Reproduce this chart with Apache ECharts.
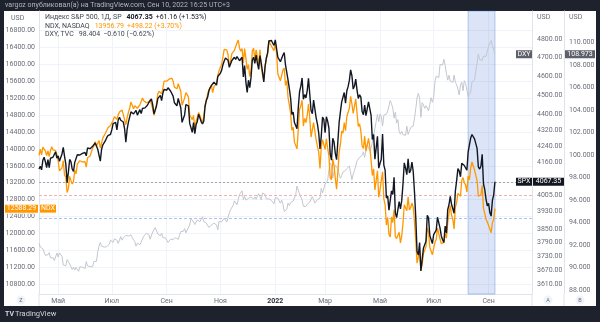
<!DOCTYPE html>
<html>
<head>
<meta charset="utf-8">
<script src="https://cdn.jsdelivr.net/npm/echarts/dist/echarts.min.js"></script>
<style>
  html, body { margin: 0; padding: 0; background: #1e222d; }
  #wrap { position: relative; width: 600px; height: 322px; overflow: hidden; }
  #panel { position: absolute; left: 4px; top: 11px; width: 592px; height: 295px; background: #ffffff; }
  #chart { position: absolute; left: 0; top: 0; width: 600px; height: 322px; }
</style>
</head>
<body>
<div id="wrap"><div id="panel"></div><div id="chart"></div></div>
<script>
// ---- Daily closes, one value per trading day from 2021-04-12 to 2022-09-09 ----
const spxClose = [
  4128, 4141, 4124, 4170, 4185, 4163, 4135, 4173, 4135, 4180, 4188, 4186, 4183, 4211, 4181,
  4192, 4165, 4168, 4201, 4233, 4189, 4152, 4063, 4113, 4174, 4164, 4128, 4116, 4160, 4156, 4197, 4189, 4196, 4201, 4204,
  4202, 4208, 4192, 4230, 4226, 4227, 4220, 4239, 4247, 4255, 4246, 4224, 4222, 4166, 4224, 4246, 4242, 4266, 4281, 4291, 4291, 4298,
  4320, 4352, 4344, 4358, 4320, 4370, 4384, 4369, 4374, 4360, 4327, 4259, 4323, 4359, 4368, 4412, 4422, 4401, 4400, 4419, 4395,
  4387, 4423, 4403, 4429, 4437, 4432, 4436, 4447, 4460, 4468, 4479, 4449, 4401, 4406, 4442, 4480, 4486, 4497, 4470, 4509, 4529, 4523,
  4524, 4537, 4535, 4520, 4514, 4493, 4459, 4469, 4443, 4481, 4474, 4433, 4358, 4355, 4396, 4449, 4455, 4443, 4353, 4360, 4308,
  4357, 4301, 4346, 4364, 4400, 4391, 4361, 4350, 4364, 4438, 4471, 4487, 4520, 4537, 4549, 4545, 4567, 4575, 4551, 4597, 4605,
  4614, 4631, 4660, 4680, 4697, 4702, 4685, 4646, 4649, 4683, 4682, 4701, 4689, 4705, 4698, 4682, 4691, 4701, 4595, 4656, 4567,
  4513, 4577, 4538, 4592, 4686, 4701, 4668, 4712, 4669, 4635, 4710, 4669, 4621, 4568, 4650, 4697, 4726, 4791, 4786, 4793, 4778, 4766,
  4797, 4794, 4701, 4696, 4677, 4670, 4713, 4726, 4659, 4663, 4577, 4533, 4483, 4398, 4410, 4357, 4350, 4326, 4432, 4516,
  4546, 4589, 4477, 4501, 4484, 4522, 4587, 4504, 4419, 4402, 4472, 4475, 4381, 4349, 4305, 4226, 4288, 4385, 4374,
  4306, 4387, 4364, 4329, 4201, 4171, 4278, 4260, 4204, 4173, 4262, 4358, 4412, 4463, 4461, 4512, 4456, 4520, 4543, 4576, 4632, 4602, 4530,
  4546, 4583, 4525, 4481, 4500, 4488, 4413, 4397, 4447, 4392, 4391, 4463, 4460, 4394, 4272, 4297, 4175, 4184, 4288, 4132,
  4155, 4175, 4300, 4147, 4123, 3991, 4001, 3935, 3930, 4024, 4008, 4089, 3923, 3901, 3901, 3974, 3941, 3979, 4058, 4158, 4132,
  4101, 4177, 4109, 4121, 4161, 4116, 4018, 3901, 3750, 3735, 3790, 3667, 3675, 3765, 3760, 3796, 3912, 3900, 3821, 3819, 3785,
  3825, 3831, 3845, 3903, 3899, 3854, 3819, 3802, 3790, 3863, 3831, 3937, 3960, 3999, 3962, 3967, 3921, 4024, 4073, 4130,
  4119, 4091, 4155, 4152, 4145, 4140, 4122, 4210, 4208, 4280, 4297, 4305, 4275, 4284, 4228, 4138, 4128, 4141, 4199, 4058, 4031, 3986, 3955,
  3967, 3924, 3908, 3980, 4006, 4067.35
];

const ndxClose = [
  13845, 13996, 13857, 14041, 14041, 13946, 13844, 13950, 13818, 13960, 14052, 13975, 13930, 13960, 13860,
  13720, 13480, 13440, 13550, 13720, 13380, 13330, 12970, 13060, 13350, 13250, 13170, 13230, 13490, 13410, 13640, 13660, 13720, 13690, 13690,
  13660, 13700, 13570, 13790, 13830, 13830, 13840, 14020, 14070, 14170, 14070, 14040, 14200, 14020, 14140, 14260, 14270, 14370, 14360, 14500, 14530, 14550,
  14520, 14670, 14760, 14790, 14700, 14800, 14870, 14860, 14920, 14810, 14690, 14570, 14740, 14860, 14960, 15110, 15130, 14950, 15020, 15040, 14960,
  14970, 15040, 15080, 15200, 15140, 15170, 15090, 15060, 15110, 15160, 15130, 14950, 14790, 14910, 15070, 15300, 15360, 15390, 15300, 15440, 15600, 15580,
  15600, 15610, 15650, 15690, 15670, 15600, 15460, 15440, 15420, 15540, 15550, 15360, 15030, 15060, 15200, 15330, 15370, 15230, 14800, 14760, 14690,
  14790, 14470, 14660, 14750, 14860, 14790, 14690, 14630, 14760, 15040, 15150, 15290, 15400, 15390, 15500, 15330, 15470, 15510, 15550, 15740, 15850,
  15930, 16000, 16170, 16350, 16370, 16340, 16230, 15980, 16080, 16250, 16240, 16330, 16330, 16500, 16573, 16380, 16310, 16370, 16030, 16370, 16140,
  15880, 15990, 15710, 15850, 16310, 16380, 16100, 16340, 16180, 15990, 16340, 15940, 15750, 15620, 15960, 16120, 16240, 16567, 16480, 16430, 16370, 16320,
  16500, 16280, 15770, 15770, 15610, 15630, 15860, 15910, 15500, 15610, 15210, 15040, 14840, 14440, 14510, 14160, 14160, 14000, 14440, 14930,
  15020, 15150, 14540, 14720, 14620, 14790, 15060, 14730, 14280, 14290, 14620, 14620, 14210, 14060, 13930, 13540, 14030, 14220, 14240,
  13990, 14240, 14020, 13840, 13320, 13270, 13760, 13610, 13300, 13050, 13450, 13930, 14110, 14420, 14370, 14620, 14430, 14760, 14760, 14960, 15240, 15060, 14840,
  14860, 15180, 14850, 14530, 14590, 14420, 14070, 14010, 14300, 13950, 13970, 14250, 14040, 13740, 13370, 13530, 13030, 13020, 13480, 12855,
  13030, 13070, 13460, 12820, 12680, 12200, 12380, 11980, 11920, 12390, 12260, 12560, 11930, 11880, 11840, 12030, 11780, 11940, 12250, 12680, 12640,
  12540, 12870, 12560, 12610, 12720, 12630, 12270, 11830, 11300, 11320, 11590, 11130, 11270, 11530, 11510, 11690, 12130, 12040, 11670, 11680, 11500,
  11530, 11790, 11860, 12130, 12130, 11870, 11760, 11750, 11790, 11990, 11890, 12250, 12470, 12660, 12430, 12340, 12110, 12620, 12730, 12950,
  12920, 12880, 13260, 13320, 13200, 13150, 12980, 13360, 13270, 13550, 13690, 13660, 13500, 13530, 13250, 12880, 12870, 12910, 13140, 12600, 12470, 12340, 12270,
  12270, 12110, 12020, 12260, 12330, 12588.29
];

const dxyClose = [
  92.16, 91.83, 91.69, 91.67, 91.56, 91.08, 91.22, 91.14, 91.32, 90.85, 90.84, 90.88, 90.62, 90.58, 91.28,
  90.94, 91.30, 91.28, 90.99, 90.22, 90.13, 90.15, 90.71, 90.73, 90.31, 90.20, 89.83, 90.03, 89.77, 90.01, 89.97, 89.66, 90.06, 89.97, 90.03,
  89.91, 89.91, 90.53, 90.14, 90.00, 90.09, 90.09, 90.07, 90.55, 90.51, 90.55, 91.40, 91.90, 92.23, 91.90, 91.76, 91.82, 91.82, 91.85, 91.90, 92.09, 92.44,
  92.56, 92.23, 92.55, 92.66, 92.43, 92.14, 92.22, 92.75, 92.43, 92.63, 92.70, 92.86, 92.93, 92.80, 92.77, 92.90, 92.65, 92.49, 92.30, 91.90, 92.17,
  92.05, 92.03, 92.27, 92.25, 92.78, 92.95, 93.05, 92.92, 92.93, 92.52, 92.62, 93.14, 93.18, 93.56, 93.50, 92.98, 92.88, 92.82, 93.06, 92.66, 92.69, 92.63,
  92.53, 92.23, 92.13, 92.52, 92.68, 92.50, 92.58, 92.66, 92.63, 92.50, 92.86, 93.20, 93.27, 93.22, 93.46, 93.08, 93.33, 93.36, 93.78, 94.36, 94.23,
  94.04, 93.82, 93.99, 94.24, 94.23, 94.08, 94.30, 94.51, 94.09, 93.96, 93.96, 93.94, 93.57, 93.59, 93.77, 93.64, 93.94, 93.87, 93.79, 93.35, 94.12,
  94.09, 94.06, 94.18, 94.39, 94.32, 94.04, 93.92, 94.86, 95.15, 95.12, 95.53, 95.93, 95.83, 95.57, 96.03, 96.50, 96.51, 96.82, 96.04, 96.32, 95.99,
  95.97, 96.15, 96.16, 96.28, 96.34, 96.09, 96.28, 96.07, 96.35, 96.56, 96.55, 96.02, 96.62, 96.53, 96.51, 96.10, 96.05, 96.11, 96.20, 95.97, 95.92, 95.67,
  96.21, 96.27, 96.17, 96.32, 95.73, 95.99, 95.62, 94.98, 94.83, 95.17, 95.73, 95.52, 95.77, 95.64, 95.92, 95.93, 96.46, 97.25, 97.26, 96.54,
  96.38, 96.00, 95.44, 95.47, 95.44, 95.63, 95.49, 95.82, 96.08, 96.31, 96.03, 95.73, 95.84, 96.04, 96.03, 96.18, 97.05, 96.62, 96.71,
  97.41, 97.40, 97.76, 98.69, 99.29, 99.07, 97.96, 98.50, 99.13, 98.98, 98.78, 98.32, 97.93, 98.19, 98.49, 98.49, 98.63, 98.81, 98.79, 99.03, 98.41, 97.81, 98.31,
  98.62, 99.03, 99.49, 99.62, 99.80, 99.83, 99.99, 100.29, 99.80, 100.49, 100.94, 100.96, 100.37, 100.65, 101.13, 101.76, 102.34, 103.00, 103.63, 102.96,
  103.66, 103.46, 102.58, 103.55, 103.66, 103.65, 103.92, 103.86, 104.85, 104.57, 104.17, 103.29, 103.81, 102.85, 103.15, 102.08, 101.86, 102.11, 101.83, 101.67, 101.76,
  102.57, 101.84, 102.17, 102.45, 102.35, 102.58, 103.28, 104.15, 105.08, 105.50, 105.06, 103.36, 104.67, 104.47, 104.16, 104.39, 104.20, 103.93, 104.50, 105.11, 104.70,
  105.14, 106.51, 107.04, 107.03, 106.88, 108.06, 108.06, 108.01, 108.53, 107.99, 107.27, 106.67, 107.10, 106.59, 106.74, 106.47, 107.12, 106.46, 106.26, 105.87,
  105.36, 106.24, 106.50, 105.73, 106.62, 106.38, 106.36, 105.20, 105.05, 105.62, 106.50, 106.48, 106.68, 107.52, 108.17, 108.99, 108.50, 108.56, 108.43, 108.81, 108.80, 108.78, 108.70,
  109.67, 109.54, 110.20, 109.71, 109.57, 108.973
];

// Price-scale labels
const ndxTicks = [10800, 11200, 11600, 12000, 12400, 12800, 13200, 13600, 14000, 14400, 14800, 15200, 15600, 16000, 16400, 16800];
const spxTicks = [3610, 3670, 3730, 3790, 3850, 3930, 4005, 4080, 4160, 4240, 4320, 4400, 4500, 4600, 4700, 4800, 4900];
const dxyTicks = [88, 90, 92, 94, 96, 98, 100, 102, 104, 106, 108, 110];
const monthNames = ['Янв', 'Фев', 'Мар', 'Апр', 'Май', 'Июн', 'Июл', 'Авг', 'Сен', 'Окт', 'Ноя', 'Дек'];

// Reference levels and highlighted date range
const spxPrevClose = 4006.19;
const ndxLevel = 12376;
const rangeStart = '2022-08-10';
const rangeEnd = '2022-09-09';

// Legend lines
const legendRows = [
  { name: 'Индекс S&P 500, 1Д, SP', value: '4067.35', change: '+61.16 (+1.53%)', color: '#131722' },
  { name: 'NDX, NASDAQ', value: '13956.79', change: '+498.22 (+3.70%)', color: '#ff9800' },
  { name: 'DXY, TVC', value: '98.404', change: '−0.610 (−0.62%)', color: '#434651' }
];

// ---- NYSE trading calendar ----
const holidays = new Set(['2021-05-31', '2021-07-05', '2021-09-06', '2021-11-25', '2021-12-24',
  '2022-01-17', '2022-02-21', '2022-04-15', '2022-05-30', '2022-06-20', '2022-07-04', '2022-09-05']);
const rightPadBars = 29;
function buildCalendar(startIso, count) {
  const out = [];
  const d = new Date(startIso + 'T00:00:00Z');
  while (out.length < count) {
    const iso = d.toISOString().slice(0, 10);
    const wd = d.getUTCDay();
    if (wd !== 0 && wd !== 6 && !holidays.has(iso)) out.push(iso);
    d.setUTCDate(d.getUTCDate() + 1);
  }
  return out;
}
const dates = buildCalendar('2021-04-12', spxClose.length + rightPadBars);

// First trading day of Jan/Mar/May/Jul/Sep/Nov gets a label and a grid line
const monthMark = dates.map((d, i) => {
  if (i === 0 || i >= spxClose.length) return false;
  const m = parseInt(d.slice(5, 7), 10) - 1;
  return d.slice(5, 7) !== dates[i - 1].slice(5, 7) && m % 2 === 0;
});

const FONT = 'Roboto, "Noto Sans", sans-serif';
const AXIS_TXT = '#6a6d78';
const GRID_LINE = '#f0f3fa';
const AXIS_LINE = '#e0e3eb';
const PLOT_L = 39, PLOT_R = 532;

const chart = echarts.init(document.getElementById('chart'), null, { renderer: 'canvas' });

const option = {
  backgroundColor: 'transparent',
  animation: false,
  grid: { left: PLOT_L, right: 600 - PLOT_R, top: 11, bottom: 28, containLabel: false },
  xAxis: {
    type: 'category',
    data: dates,
    boundaryGap: false,
    axisLine: { show: true, lineStyle: { color: AXIS_LINE } },
    axisTick: { show: false },
    axisLabel: {
      interval: (i) => monthMark[i],
      margin: 4,
      fontSize: 7,
      fontFamily: FONT,
      color: AXIS_TXT,
      formatter: (v) => {
        const m = parseInt(v.slice(5, 7), 10) - 1;
        return m === 0 ? '{yr|' + v.slice(0, 4) + '}' : monthNames[m];
      },
      rich: { yr: { fontSize: 7, fontWeight: 'bold', color: '#2a2e39', fontFamily: FONT } }
    },
    splitLine: { show: true, interval: (i) => monthMark[i], lineStyle: { color: GRID_LINE, width: 1 } }
  },
  yAxis: [
    {
      type: 'value', position: 'left', min: 10571, max: 17258,
      axisLine: { show: true, lineStyle: { color: AXIS_LINE } },
      axisTick: { show: false, customValues: ndxTicks },
      axisLabel: { customValues: ndxTicks, formatter: (v) => Number(v).toFixed(2), fontSize: 7, fontFamily: FONT, color: AXIS_TXT, margin: 4 },
      splitLine: { show: true, lineStyle: { color: GRID_LINE, width: 1 } }
    },
    {
      // SPX price scale is logarithmic: series values are natural logs
      type: 'value', position: 'right', offset: 0, min: 8.18022, max: 8.50929,
      axisLine: { show: true, lineStyle: { color: AXIS_LINE } },
      axisTick: { show: false },
      axisLabel: {
        customValues: spxTicks.map(Math.log),
        formatter: (v) => Math.round(Math.exp(v)).toFixed(2),
        fontSize: 7, fontFamily: FONT, color: AXIS_TXT, margin: 5
      },
      splitLine: { show: false }
    },
    {
      type: 'value', position: 'right', offset: 32, min: 87.644, max: 112.82,
      axisLine: { show: true, lineStyle: { color: AXIS_LINE } },
      axisTick: { show: false },
      axisLabel: { customValues: dxyTicks, formatter: (v) => Number(v).toFixed(3), fontSize: 7, fontFamily: FONT, color: AXIS_TXT, margin: 5 },
      splitLine: { show: false }
    }
  ],
  series: [
    {
      name: 'DXY', type: 'line', yAxisIndex: 2, data: dxyClose, showSymbol: false, symbol: 'none',
      lineStyle: { color: '#c3c6ce', width: 1 }, z: 2
    },
    {
      name: 'NDX', type: 'line', yAxisIndex: 0, data: ndxClose, showSymbol: false, symbol: 'none',
      lineStyle: { color: '#ff9800', width: 1.3 }, z: 3
    },
    {
      name: 'SPX', type: 'line', yAxisIndex: 1, data: spxClose.map(Math.log), showSymbol: false, symbol: 'none',
      lineStyle: { color: '#131722', width: 1.4 }, z: 4,
      markArea: {
        silent: true,
        itemStyle: { color: 'rgba(55,110,210,0.18)', borderColor: 'rgba(60,110,210,0.35)', borderWidth: 1 },
        data: [[{ xAxis: rangeStart }, { xAxis: rangeEnd }]]
      }
    }
  ]
};
chart.setOption(option);

// ---- Overlay: header, legend, axis captions, price lines and tags ----
const G = [];
function txt(x, y, text, o) {
  G.push(Object.assign({ type: 'text', x, y, z: 100,
    style: Object.assign({ text, fontSize: 7, fontFamily: FONT, fill: AXIS_TXT, align: 'left', verticalAlign: 'middle' }, o || {}) }));
}
function box(x, yc, w, fill, text, color) {
  G.push({ type: 'rect', z: 100, shape: { x, y: yc - 4, width: w, height: 8 }, style: { fill } });
  G.push({ type: 'text', z: 101, x: x + w / 2, y: yc,
    style: { text, fontSize: 7, fontFamily: FONT, fill: color || '#ffffff', align: 'center', verticalAlign: 'middle' } });
}
function line(x1, y1, x2, y2, c, dash) {
  G.push({ type: 'line', z: dash ? 1 : 99, silent: true, shape: { x1, y1, x2, y2 },
    style: { stroke: c || AXIS_LINE, lineWidth: 1, lineDash: dash || null } });
}

// Header and footer on the dark frame
txt(5, 5.5, 'vargoz опубликовал(а) на TradingView.com, Сен 10, 2022 16:25 UTC+3', { fill: '#b2b5be', fontSize: 7 });
txt(5, 314, 'TV', { fill: '#d1d4dc', fontSize: 7, fontWeight: 'bold' });
txt(15, 314, 'TradingView', { fill: '#d1d4dc', fontSize: 7.5 });

// Currency captions above each price scale
[[5, 33], [533, 30], [565, 30]].forEach(([x, w]) => {
  G.push({ type: 'rect', z: 98, shape: { x, y: 12, width: w, height: 11 }, style: { fill: '#ffffff' } });
});
txt(11, 18, 'USD');
txt(537, 17, 'USD');
txt(569, 17, 'USD');

// Legend, one rich-text row per symbol
const legendY = [17.5, 25.8, 34];
legendRows.forEach((r, i) => {
  txt(45, legendY[i], '{n|' + r.name + '}{v|' + r.value + '}{c|' + r.change + '}', {
    rich: {
      n: { fontSize: 7, fontFamily: FONT, fill: '#434651' },
      v: { fontSize: 7, fontFamily: FONT, fill: r.color, fontWeight: i === 0 ? 'bold' : 'normal', padding: [0, 0, 0, 5] },
      c: { fontSize: 7, fontFamily: FONT, fill: r.color, padding: [0, 0, 0, 3] }
    }
  });
});

// Bottom strip separators and scale buttons
line(39, 294, 39, 306);
line(532, 294, 532, 306);
line(564, 294, 564, 306);
[[21, 'Z'], [548, 'A'], [580, 'B']].forEach(([x, t]) => {
  G.push({ type: 'circle', z: 100, shape: { cx: x, cy: 300, r: 4.5 }, style: { fill: '#f0f3fa' } });
  txt(x, 300.3, t, { align: 'center', fontSize: 5.5, fill: '#6a6d78' });
});

// Price lines and last-value tags, placed through the axes' scales
const spxLast = spxClose[spxClose.length - 1];
const ndxLast = ndxClose[ndxClose.length - 1];
const dxyLast = dxyClose[dxyClose.length - 1];
const ySpx = chart.convertToPixel({ yAxisIndex: 1 }, Math.log(spxLast));
const ySpxPrev = chart.convertToPixel({ yAxisIndex: 1 }, Math.log(spxPrevClose));
const yNdx = chart.convertToPixel({ yAxisIndex: 0 }, ndxLast);
const yNdxLevel = chart.convertToPixel({ yAxisIndex: 0 }, ndxLevel);
const yDxy = chart.convertToPixel({ yAxisIndex: 2 }, dxyLast);

line(PLOT_L, Math.round(ySpx) + 0.5, PLOT_R, Math.round(ySpx) + 0.5, '#a5a8b0', [2, 2]);
line(PLOT_L, Math.round(ySpxPrev) + 0.5, PLOT_R, Math.round(ySpxPrev) + 0.5, '#f5b1b1', [3, 2]);
line(PLOT_L, Math.round(yNdxLevel) + 0.5, PLOT_R, Math.round(yNdxLevel) + 0.5, '#abc4f0', [3, 2]);

G.push({ type: 'rect', z: 99, shape: { x: 533, y: ySpx - 6, width: 30, height: 12 }, style: { fill: '#ffffff' } });
box(516, ySpx, 16, '#131722', 'SPX');
box(533, ySpx, 31, '#131722', spxLast.toFixed(2));
box(516, yDxy, 16, '#5d606b', 'DXY');
box(565, yDxy, 30, '#5d606b', dxyLast.toFixed(3));
G.push({ type: 'rect', z: 99, shape: { x: 5, y: yNdx - 5, width: 33, height: 10 }, style: { fill: '#ffffff' } });
box(5, yNdx, 33, '#ff9800', ndxLast.toFixed(2));
box(40, yNdx, 16, '#ff9800', 'NDX');

chart.setOption({ graphic: { elements: G } });
</script>
</body>
</html>
